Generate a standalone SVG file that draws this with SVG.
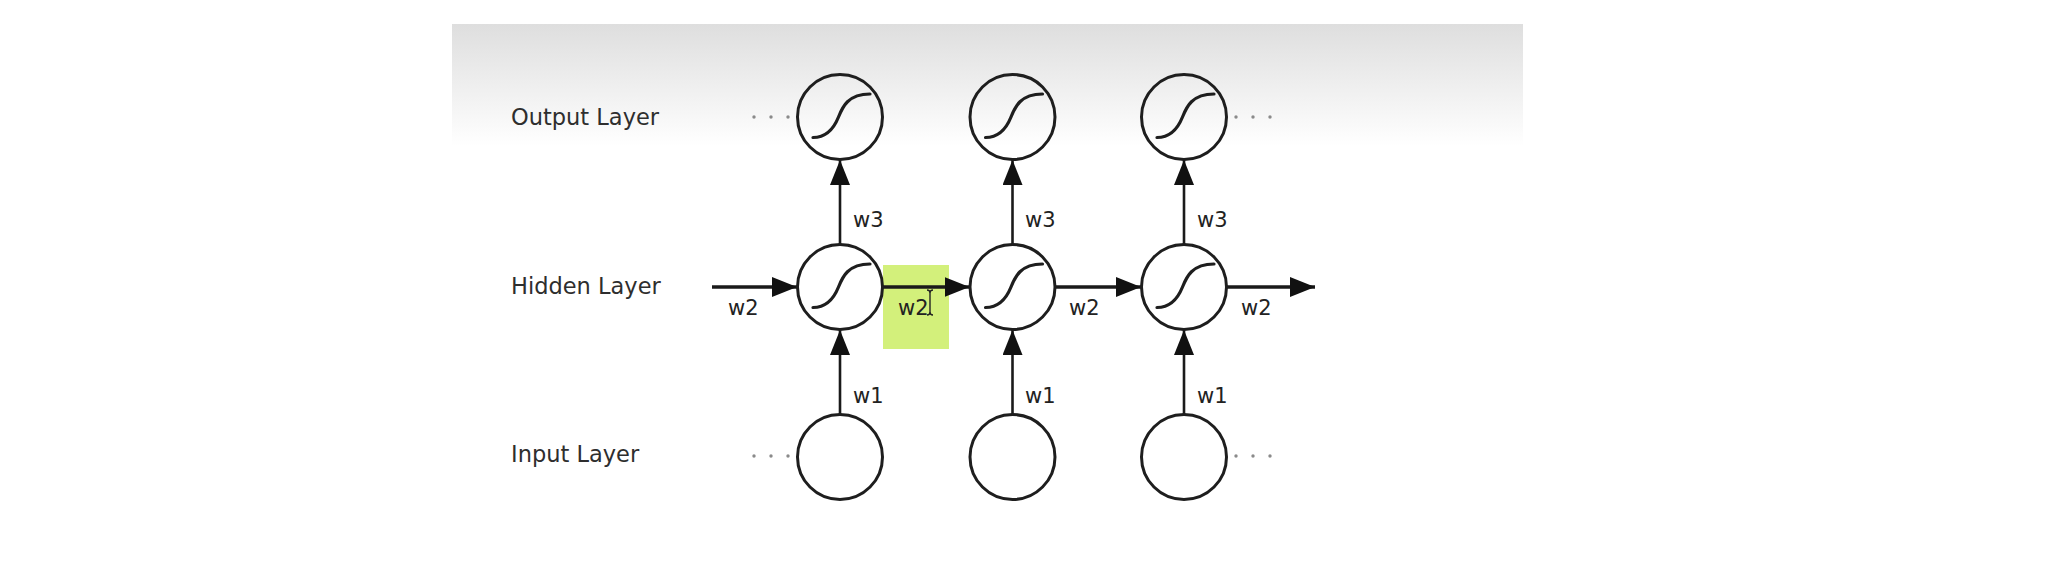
<svg xmlns="http://www.w3.org/2000/svg" xmlns:xlink="http://www.w3.org/1999/xlink" width="2054" height="580" viewBox="0 0 2054 580">
  <style>
    .layer { font-family: "DejaVu Sans", Verdana, sans-serif; font-size: 22.5px; fill: #2e2e2e; }
    .w { font-family: "DejaVu Sans", Verdana, sans-serif; font-size: 21px; fill: #222; }
    .node { fill: none; stroke: #1e1e1e; stroke-width: 3; }
    .sig { fill: none; stroke: #1e1e1e; stroke-width: 3.2; stroke-linecap: round; }
    .h { stroke: #1a1a1a; stroke-width: 3.6; fill: none; }
    .v { stroke: #1a1a1a; stroke-width: 2.6; fill: none; }
    .dot { fill: #8a8a8a; }
  </style>
  <defs>
    <linearGradient id="bg" x1="0" y1="0" x2="0" y2="1">
      <stop offset="0" stop-color="#dedede"/>
      <stop offset="1" stop-color="#ffffff"/>
    </linearGradient>
    <path id="sigmoid" class="sig" d="M -27 20.5 C -12 20.5 -5.5 10 -1.5 0 C 2.5 -10 8 -23 30 -23"/>
    <marker id="ah" viewBox="0 0 25 20" refX="25" refY="10" markerWidth="25" markerHeight="20" markerUnits="userSpaceOnUse" orient="auto">
      <path d="M0 0 L25 10 L0 20 Z" fill="#111"/>
    </marker>
    <marker id="av" viewBox="0 0 25 20" refX="25" refY="10" markerWidth="25" markerHeight="20" markerUnits="userSpaceOnUse" orient="auto">
      <path d="M0 0 L25 10 L0 20 Z" fill="#111"/>
    </marker>
  </defs>

  <rect x="0" y="0" width="2054" height="580" fill="#ffffff"/>
  <rect x="452" y="24" width="1071" height="122" fill="url(#bg)"/>

  <!-- highlight -->
  <rect x="883" y="265" width="66" height="84" fill="#d3f07b"/>

  <!-- layer labels -->
  <text class="layer" x="511" y="125">Output Layer</text>
  <text class="layer" x="511" y="294">Hidden Layer</text>
  <text class="layer" x="511" y="462">Input Layer</text>

  <!-- connectors -->
  <g id="connectors">
    <line class="h" x1="712" y1="287" x2="797" y2="287" marker-end="url(#ah)"/>
    <line class="h" x1="883" y1="287" x2="969.5" y2="287" marker-end="url(#ah)"/>
    <line class="h" x1="1055.5" y1="287" x2="1141" y2="287" marker-end="url(#ah)"/>
    <line class="h" x1="1227" y1="287" x2="1315" y2="287" marker-end="url(#ah)"/>

    <line class="v" x1="840" y1="414" x2="840" y2="330" marker-end="url(#av)"/>
    <line class="v" x1="1012.5" y1="414" x2="1012.5" y2="330" marker-end="url(#av)"/>
    <line class="v" x1="1184" y1="414" x2="1184" y2="330" marker-end="url(#av)"/>

    <line class="v" x1="840" y1="244" x2="840" y2="160" marker-end="url(#av)"/>
    <line class="v" x1="1012.5" y1="244" x2="1012.5" y2="160" marker-end="url(#av)"/>
    <line class="v" x1="1184" y1="244" x2="1184" y2="160" marker-end="url(#av)"/>

    <text class="w" x="728" y="315">w2</text>
    <text class="w" x="898" y="315">w2</text>
    <text class="w" x="1069" y="315">w2</text>
    <text class="w" x="1241" y="315">w2</text>

    <text class="w" x="853" y="403">w1</text>
    <text class="w" x="1025" y="403">w1</text>
    <text class="w" x="1197" y="403">w1</text>

    <text class="w" x="853" y="227">w3</text>
    <text class="w" x="1025" y="227">w3</text>
    <text class="w" x="1197" y="227">w3</text>
  </g>

  <!-- ellipsis dots -->
  <g id="dots">
    <circle class="dot" cx="754" cy="117" r="1.7"/>
    <circle class="dot" cx="771" cy="117" r="1.7"/>
    <circle class="dot" cx="788" cy="117" r="1.7"/>
    <circle class="dot" cx="1236" cy="117" r="1.7"/>
    <circle class="dot" cx="1253" cy="117" r="1.7"/>
    <circle class="dot" cx="1270" cy="117" r="1.7"/>
    <circle class="dot" cx="754" cy="456" r="1.7"/>
    <circle class="dot" cx="771" cy="456" r="1.7"/>
    <circle class="dot" cx="788" cy="456" r="1.7"/>
    <circle class="dot" cx="1236" cy="456" r="1.7"/>
    <circle class="dot" cx="1253" cy="456" r="1.7"/>
    <circle class="dot" cx="1270" cy="456" r="1.7"/>
  </g>

  <!-- output nodes -->
  <g id="out1"><circle class="node" cx="840" cy="117" r="42.5"/><use xlink:href="#sigmoid" href="#sigmoid" x="840" y="117"/></g>
  <g id="out2"><circle class="node" cx="1012.5" cy="117" r="42.5"/><use xlink:href="#sigmoid" href="#sigmoid" x="1012.5" y="117"/></g>
  <g id="out3"><circle class="node" cx="1184" cy="117" r="42.5"/><use xlink:href="#sigmoid" href="#sigmoid" x="1184" y="117"/></g>

  <!-- hidden nodes -->
  <g id="hid1"><circle class="node" cx="840" cy="287" r="42.5"/><use xlink:href="#sigmoid" href="#sigmoid" x="840" y="287"/></g>
  <g id="hid2"><circle class="node" cx="1012.5" cy="287" r="42.5"/><use xlink:href="#sigmoid" href="#sigmoid" x="1012.5" y="287"/></g>
  <g id="hid3"><circle class="node" cx="1184" cy="287" r="42.5"/><use xlink:href="#sigmoid" href="#sigmoid" x="1184" y="287"/></g>

  <!-- input nodes -->
  <g id="in1"><circle class="node" cx="840" cy="457" r="42.5"/></g>
  <g id="in2"><circle class="node" cx="1012.5" cy="457" r="42.5"/></g>
  <g id="in3"><circle class="node" cx="1184" cy="457" r="42.5"/></g>

  <!-- text cursor -->
  <g id="cursor" fill="none" stroke="#222" stroke-width="1.4">
    <path d="M927 290 Q930 290 930 293 Q930 290 933 290"/>
    <line x1="930" y1="293" x2="930" y2="312"/>
    <path d="M927 315 Q930 315 930 312 Q930 315 933 315"/>
  </g>
</svg>
